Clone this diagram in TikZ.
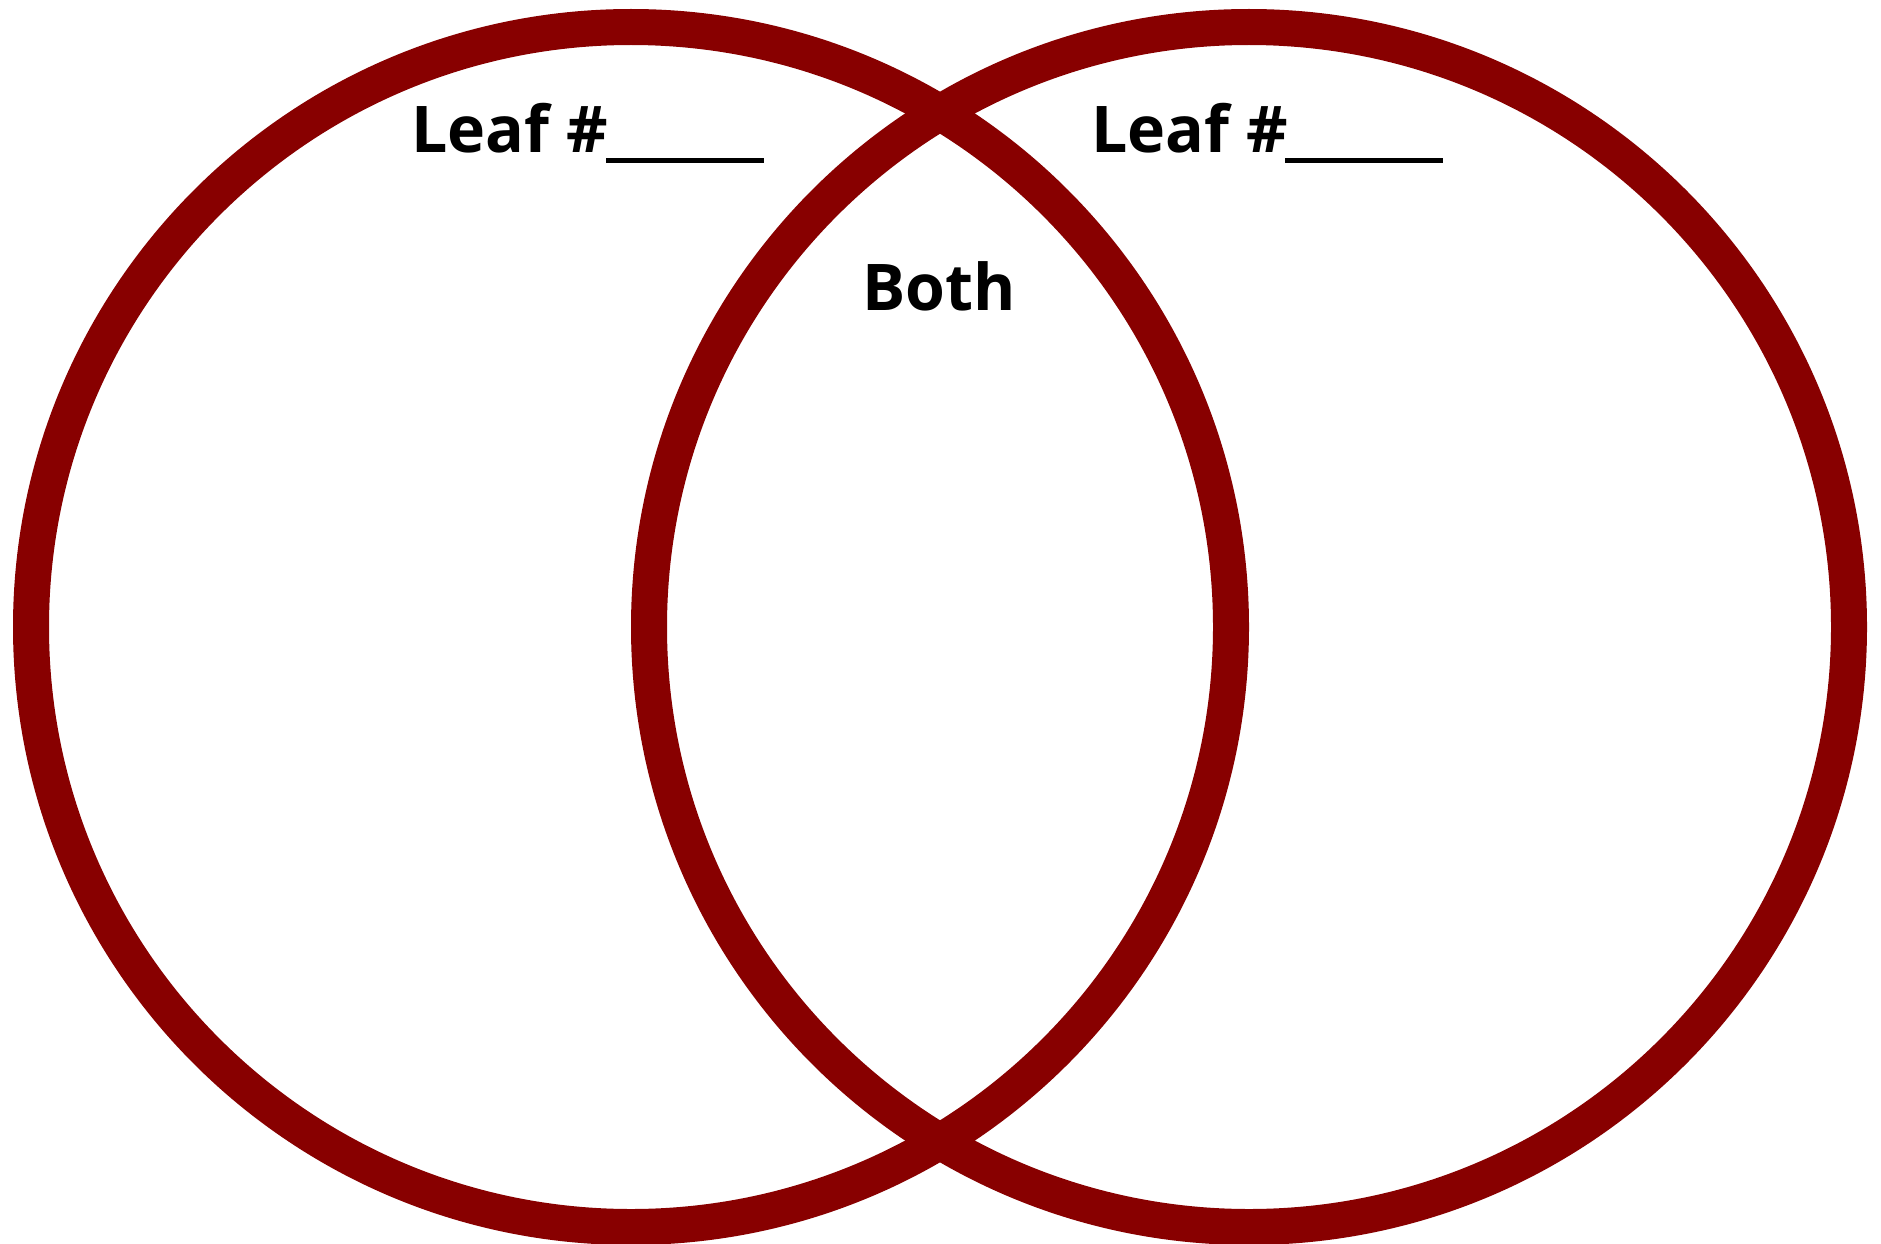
\documentclass[tikz,border=0pt]{standalone}
\usepackage{fontspec}
\setmainfont{Open Sans}
\definecolor{vennred}{RGB}{136,0,0}
\tikzset{
  ring/.style={draw=vennred, line width=36pt},
  label/.style={inner sep=0pt, anchor=base west, font=\fontsize{64.4}{70}\selectfont\bfseries},
  blank/.style={line width=4.3pt, black}
}
\begin{document}
\begin{tikzpicture}[x=1pt,y=-1pt]
\useasboundingbox (0,0) rectangle (1881,1244);
\fill[white] (0,0) rectangle (1881,1244);
\draw[ring] (631,627) circle (600pt);
\draw[ring] (1249,627) circle (600pt);
\node[label] (leafL) at (411,152.7) {Leaf \#};
\coordinate (lineLa) at (606,160.5);
\coordinate (lineLb) at (764,160.5);
\draw[blank] (lineLa) -- (lineLb);
\node[label] (leafR) at (1091,152.7) {Leaf \#};
\coordinate (lineRa) at (1285,160.5);
\coordinate (lineRb) at (1443,160.5);
\draw[blank] (lineRa) -- (lineRb);
\node[label, anchor=base] (both) at (939,310) {Both};
\end{tikzpicture}
\end{document}
